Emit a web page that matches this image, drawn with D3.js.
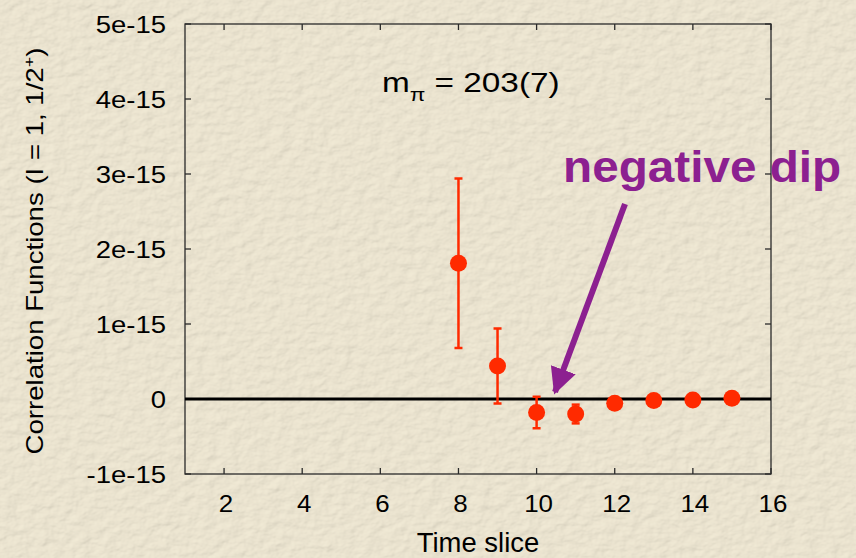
<!DOCTYPE html>
<html>

<head>
    <script type="text/javascript" src="https://cdnjs.cloudflare.com/ajax/libs/d3/7.8.5/d3.min.js"></script>
    <style>
        body {
            margin: 0;
            background: #f0e8d3;
        }

        svg text {
            font-family: "Liberation Sans", Arial, Helvetica, sans-serif;
            fill: black;
        }
    </style>
</head>

<body>
    <script>
        // time slices and correlator values (units of 1e-15)
        var timeSlice = [8, 9, 10, 11, 12, 13, 14, 15];
        var corr = [1.81, 0.44, -0.18, -0.20, -0.057, -0.02, -0.013, 0.01];
        var corrErr = [1.13, 0.50, 0.21, 0.125, 0.05, 0.03, 0.02, 0.02];

        var xTicks = [2, 4, 6, 8, 10, 12, 14, 16];
        var yTicks = [-1, 0, 1, 2, 3, 4, 5];
        var yTickLabels = ["-1e-15", "0", "1e-15", "2e-15", "3e-15", "4e-15", "5e-15"];

        var width = 856,
            height = 558,
            plotL = 185, plotR = 771, plotT = 24, plotB = 474;

        var x = d3.scaleLinear().domain([1, 16]).range([plotL, plotR]);
        var y = d3.scaleLinear().domain([-1, 5]).range([plotB, plotT]);

        var svg = d3.select('body')
            .append('svg')
            .attr('width', width)
            .attr('height', height);

        // the slide font is a bit wider than Liberation Sans, so stretch it
        function label(px, py, size, anchor, sx, rot) {
            var g = svg.append('g')
                .attr('transform', 'translate(' + px + ',' + py + ')' +
                    (rot ? ' rotate(' + rot + ')' : '') + ' scale(' + sx + ',1)');
            return g.append('text')
                .attr('text-anchor', anchor)
                .style('font-size', size + 'px');
        }

        // parchment texture
        var defs = svg.append('defs');
        var filt = defs.append('filter').attr('id', 'paper')
            .attr('x', 0).attr('y', 0).attr('width', '100%').attr('height', '100%');
        filt.append('feTurbulence')
            .attr('type', 'fractalNoise')
            .attr('baseFrequency', '0.08 0.12')
            .attr('numOctaves', 3)
            .attr('seed', 4)
            .attr('result', 'noise');
        filt.append('feDiffuseLighting')
            .attr('in', 'noise')
            .attr('lighting-color', '#f3ecd8')
            .attr('surfaceScale', 1.4)
            .append('feDistantLight')
            .attr('azimuth', 45)
            .attr('elevation', 62);

        svg.append('rect')
            .attr('width', width).attr('height', height)
            .attr('fill', '#f0e8d3');
        svg.append('rect')
            .attr('width', width).attr('height', height)
            .attr('filter', 'url(#paper)')
            .attr('opacity', 0.55);

        // frame
        svg.append('rect')
            .attr('x', plotL).attr('y', plotT)
            .attr('width', plotR - plotL).attr('height', plotB - plotT)
            .attr('fill', 'none')
            .attr('stroke', '#2a2a2a')
            .attr('stroke-width', 1.3);

        var tickLen = 6;
        var ticks = svg.append('g').attr('stroke', '#2a2a2a').attr('stroke-width', 1.3);
        xTicks.forEach(function(t) {
            ticks.append('line').attr('x1', x(t)).attr('x2', x(t))
                .attr('y1', plotB).attr('y2', plotB - tickLen);
            ticks.append('line').attr('x1', x(t)).attr('x2', x(t))
                .attr('y1', plotT).attr('y2', plotT + tickLen);
        });
        yTicks.forEach(function(t) {
            ticks.append('line').attr('x1', plotL).attr('x2', plotL + tickLen)
                .attr('y1', y(t)).attr('y2', y(t));
            ticks.append('line').attr('x1', plotR).attr('x2', plotR - tickLen)
                .attr('y1', y(t)).attr('y2', y(t));
        });

        // tick labels
        xTicks.forEach(function(t) {
            label(x(t) + 2, 512, 24, 'middle', 1.08).text(t);
        });
        yTicks.forEach(function(t, i) {
            label(166, y(t) + 8.5, 23.5, 'end', 1.17).text(yTickLabels[i]);
        });

        // axis titles
        label((plotL + plotR) / 2, 552, 28, 'middle', 0.98).text('Time slice');

        var yt = label(43, 251, 23, 'middle', 1.2, -90);
        yt.append('tspan').text('Correlation Functions (I = 1, 1/2');
        yt.append('tspan').attr('dy', -9).style('font-size', '15px').text('+');
        yt.append('tspan').attr('dy', 9).text(')');

        // zero line
        svg.append('line')
            .attr('x1', plotL).attr('x2', plotR)
            .attr('y1', y(0)).attr('y2', y(0))
            .attr('stroke', 'black')
            .attr('stroke-width', 3);

        // data with error bars
        var red = '#ff2a00';
        var pts = svg.selectAll('.pt')
            .data(timeSlice)
            .enter()
            .append('g');

        pts.append('line')
            .attr('x1', function(d) { return x(d); })
            .attr('x2', function(d) { return x(d); })
            .attr('y1', function(d, i) { return y(corr[i] - corrErr[i]); })
            .attr('y2', function(d, i) { return y(corr[i] + corrErr[i]); })
            .attr('stroke', red).attr('stroke-width', 2.5);
        pts.append('line')
            .attr('x1', function(d) { return x(d) - 4; })
            .attr('x2', function(d) { return x(d) + 4; })
            .attr('y1', function(d, i) { return y(corr[i] + corrErr[i]); })
            .attr('y2', function(d, i) { return y(corr[i] + corrErr[i]); })
            .attr('stroke', red).attr('stroke-width', 2.5);
        pts.append('line')
            .attr('x1', function(d) { return x(d) - 4; })
            .attr('x2', function(d) { return x(d) + 4; })
            .attr('y1', function(d, i) { return y(corr[i] - corrErr[i]); })
            .attr('y2', function(d, i) { return y(corr[i] - corrErr[i]); })
            .attr('stroke', red).attr('stroke-width', 2.5);
        pts.append('circle')
            .attr('cx', function(d) { return x(d); })
            .attr('cy', function(d, i) { return y(corr[i]); })
            .attr('r', 8.5)
            .attr('fill', red);

        // pion mass label
        var mt = label(382, 92, 28, 'start', 1.19);
        mt.append('tspan').text('m');
        mt.append('tspan').attr('dy', 9).style('font-size', '19px').text('π');
        mt.append('tspan').attr('dy', -9).text(' = 203(7)');

        // annotation
        var purple = '#8c2090';
        label(563, 182, 45, 'start', 1.06)
            .style('font-weight', 'bold')
            .style('fill', purple)
            .text('negative dip');

        defs.append('marker')
            .attr('id', 'head')
            .attr('viewBox', '0 0 10 10')
            .attr('refX', 9).attr('refY', 5)
            .attr('markerWidth', 4.4).attr('markerHeight', 4.4)
            .attr('markerUnits', 'strokeWidth')
            .attr('orient', 'auto')
            .append('path')
            .attr('d', 'M0,0 L10,5 L0,10 Z')
            .attr('fill', purple);

        svg.append('line')
            .attr('x1', 625).attr('y1', 204)
            .attr('x2', 555).attr('y2', 392)
            .attr('stroke', purple)
            .attr('stroke-width', 6)
            .attr('marker-end', 'url(#head)');
    </script>
</body>

</html>
